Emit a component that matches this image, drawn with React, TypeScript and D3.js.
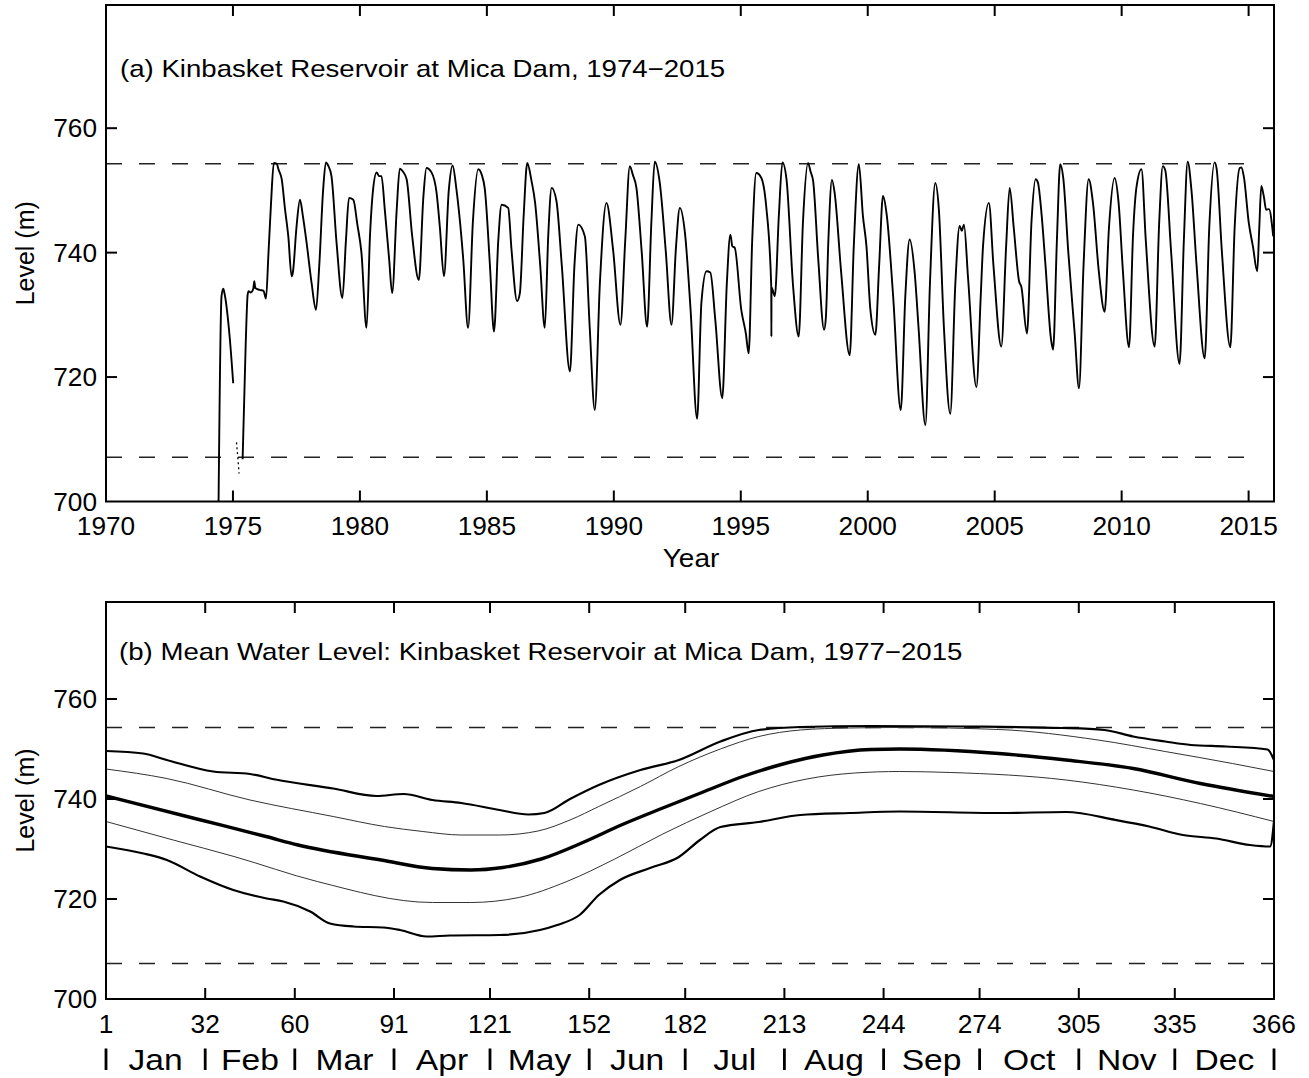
import React from 'react';
import * as d3 from 'd3';

type Pt = [number, number];

// ---------- Panel (a): daily reservoir level, 1974-2015 ----------
// initial filling of the reservoir (1974)
const fillingLevels: Pt[] = [
  [1974.41, 690], [1974.55, 733], [1974.62, 734.2], [1974.66, 733.6],
  [1974.88, 726], [1975.01, 719],
];
// sparse record early in 1975
const sparseLevels: Pt[] = [[1975.14, 709.5], [1975.2, 706.6], [1975.24, 704.5]];
// operational record
const operationLevels: Pt[] = [
  [1975.38, 706.8], [1975.5, 725], [1975.58, 733.3], [1975.62, 733.8], [1975.7, 733.6], [1975.8, 734.2],
  [1975.84, 735.4], [1975.88, 734.3], [1976.05, 734], [1976.2, 733.9], [1976.3, 732.6], [1976.4, 740],
  [1976.5, 748], [1976.61, 754.4], [1976.72, 754.3], [1976.8, 753.3], [1976.92, 751.8], [1977.05, 747],
  [1977.18, 742.6], [1977.31, 736.2], [1977.36, 736.8], [1977.5, 744], [1977.64, 748.5], [1977.75, 746],
  [1977.9, 741.6], [1978.1, 735], [1978.27, 730.8], [1978.4, 738], [1978.55, 750], [1978.66, 754.5],
  [1978.75, 754], [1978.88, 752.3], [1979.08, 741.6], [1979.31, 732.7], [1979.45, 742], [1979.57, 748.8],
  [1979.74, 748.5], [1979.9, 744.5], [1980.06, 740], [1980.26, 727.9], [1980.4, 743], [1980.52, 750.2],
  [1980.66, 752.9], [1980.75, 752.3], [1980.85, 752.3], [1980.98, 746.9], [1981.15, 739], [1981.27, 733.5],
  [1981.45, 747], [1981.57, 753.5], [1981.7, 753], [1981.84, 751.8], [1982.06, 742.6], [1982.32, 735.6],
  [1982.5, 749], [1982.62, 753.6], [1982.82, 752.9], [1983.02, 749.6], [1983.15, 744], [1983.31, 736.2],
  [1983.5, 750], [1983.65, 754.0], [1983.8, 750.2], [1984.07, 738.9], [1984.26, 727.9], [1984.45, 745],
  [1984.66, 753.4], [1984.8, 752.5], [1984.92, 750.2], [1985.12, 738], [1985.28, 727.3], [1985.45, 742],
  [1985.58, 747.7], [1985.84, 747.2], [1985.97, 740.5], [1986.19, 732.2], [1986.3, 733.5], [1986.45, 746],
  [1986.59, 754.4], [1986.76, 751.5], [1986.9, 748], [1987.1, 738], [1987.28, 727.9], [1987.42, 743],
  [1987.55, 750.4], [1987.74, 748.3], [1987.95, 738], [1988.27, 720.9], [1988.45, 738], [1988.6, 744.5],
  [1988.86, 742.6], [1989.05, 728], [1989.25, 714.7], [1989.45, 735], [1989.71, 748.0], [1989.97, 740.5],
  [1990.26, 728.4], [1990.45, 742], [1990.63, 753.9], [1990.75, 752.5], [1990.89, 750.4], [1991.1, 740],
  [1991.31, 728.1], [1991.48, 745], [1991.61, 754.6], [1991.81, 751.2], [1992.05, 740], [1992.27, 728.4],
  [1992.45, 741], [1992.6, 747.2], [1992.8, 743.2], [1993.02, 731], [1993.28, 713.3], [1993.45, 732],
  [1993.65, 737.0], [1993.8, 736.8], [1994.0, 729], [1994.27, 716.6], [1994.45, 735], [1994.59, 742.9],
  [1994.67, 741], [1994.76, 740.8], [1995.02, 730.8], [1995.2, 727], [1995.31, 723.8], [1995.45, 742],
  [1995.61, 752.8], [1995.81, 752], [1996.0, 747.5], [1996.2, 734.6], [1996.205, 726.5], [1996.21, 734.4],
  [1996.34, 733.0], [1996.5, 746], [1996.64, 754.5], [1996.8, 751.8], [1997.06, 734.6], [1997.28, 726.5],
  [1997.45, 745], [1997.65, 754.4], [1997.75, 753], [1997.85, 751.5], [1998.05, 739], [1998.28, 727.6],
  [1998.35, 729.5], [1998.45, 742], [1998.59, 751.7], [1998.7, 749.5], [1998.95, 737], [1999.29, 723.5],
  [1999.45, 741], [1999.65, 754.2], [1999.81, 745.9], [1999.95, 741], [2000.1, 731], [2000.3, 726.8],
  [2000.45, 738], [2000.6, 749.1], [2000.75, 746], [2001.0, 733], [2001.3, 714.7], [2001.48, 733],
  [2001.65, 742.1], [2001.85, 736.7], [2002.0, 728], [2002.27, 712.3], [2002.45, 735], [2002.66, 751.2],
  [2002.8, 747], [2003.0, 728], [2003.25, 714.1], [2003.45, 735], [2003.62, 744.3], [2003.7, 743.5],
  [2003.79, 744.5], [2003.95, 736], [2004.28, 718.4], [2004.45, 733], [2004.54, 741], [2004.77, 748],
  [2004.95, 738], [2005.26, 724.9], [2005.45, 741], [2005.59, 750.4], [2005.75, 744], [2005.96, 735.4],
  [2006.05, 734.5], [2006.27, 727.0], [2006.45, 745], [2006.61, 751.8], [2006.7, 751.3], [2006.85, 746],
  [2007.0, 738], [2007.22, 726], [2007.3, 724.4], [2007.45, 742], [2007.58, 754.2], [2007.7, 752],
  [2007.9, 740], [2008.15, 727], [2008.32, 718.2], [2008.5, 738], [2008.7, 751.8], [2008.87, 748],
  [2009.1, 737], [2009.33, 730.5], [2009.5, 744], [2009.72, 752], [2009.88, 748], [2010.05, 737],
  [2010.29, 724.8], [2010.45, 743], [2010.58, 750.4], [2010.78, 753.4], [2010.95, 742], [2011.3, 724.9],
  [2011.48, 745], [2011.62, 753.9], [2011.72, 753.2], [2011.95, 740], [2012.28, 722.1], [2012.45, 742],
  [2012.6, 754.6], [2012.75, 750], [2012.95, 738], [2013.27, 723.0], [2013.45, 744], [2013.66, 754.5],
  [2013.74, 753.5], [2013.95, 740], [2014.28, 724.8], [2014.45, 744], [2014.65, 753.6], [2014.72, 753.7],
  [2014.82, 752], [2015.0, 745], [2015.17, 741.0], [2015.34, 737.0], [2015.42, 744], [2015.5, 750.7],
  [2015.6, 749], [2015.69, 746.9], [2015.8, 747], [2015.97, 742.6],
];

const yearTicks = [1970, 1975, 1980, 1985, 1990, 1995, 2000, 2005, 2010, 2015];
const levelTicks = [700, 720, 740, 760];
const fullPool = 754.3;
const minPool = 707.1;

// ---------- Panel (b): day-of-year statistics, 1977-2015 ----------
const maxLevel: Pt[] = [
  [1, 749.6], [12.6, 749.1], [20, 747.8], [34.5, 745.5], [46, 745], [54, 743.9], [72, 742.1], [85.5, 740.6],
  [94, 741], [103, 739.8], [112, 739.2], [124, 737.8], [133, 736.9], [138, 737.2], [146, 740], [155, 742.8],
  [168, 745.8], [180, 747.8], [193, 751.5], [205, 753.8], [218, 754.4], [240, 754.6], [270, 754.5],
  [300, 754.2], [313, 753.8], [322, 752.5], [332, 751.5], [340, 750.8], [351, 750.5], [364, 749.9],
  [365.5, 748.5], [366, 747.8],
];
const upperSd: Pt[] = [
  [1, 746], [20, 744.1], [46, 739.8], [72, 736.5], [88, 734.5], [100, 733.5], [112, 732.8], [124, 732.8],
  [136, 733.6], [146, 735.8], [155, 738.5], [168, 742.5], [180, 746.5], [193, 750], [205, 752.5],
  [218, 753.8], [233, 754.2], [249, 754.3], [280, 753.9], [311, 751.8], [332, 749.5], [353, 747.1], [366, 745.5],
];
const meanLevel: Pt[] = [
  [1, 740.6], [30, 735.9], [51, 732.5], [61, 730.8], [87, 727.8], [103, 726.1], [115, 725.8], [125, 726.3],
  [137, 728], [150, 731.3], [162, 734.8], [175, 738.2], [188, 741.5], [200, 744.5], [212, 746.9],
  [225, 748.8], [240, 749.9], [249, 750], [280, 749.1], [301, 747.8], [322, 746.1], [343, 743.1], [366, 740.5],
];
const lowerSd: Pt[] = [
  [1, 735.5], [22, 731.8], [41, 728.5], [67, 723.5], [103, 719.3], [115, 719.3], [130, 720.3], [145, 723.5],
  [160, 728], [175, 733], [190, 737.5], [205, 741.5], [220, 744], [235, 745.2], [249, 745.5], [265, 745.3],
  [301, 743.8], [322, 741.8], [343, 739.1], [366, 735.5],
];
const minLevel: Pt[] = [
  [1, 730.5], [12.7, 729.1], [20, 727.8], [30.4, 724.5], [40.8, 721.8], [51.2, 720.1], [56.4, 719.5],
  [64.8, 717.5], [71, 715.1], [78.3, 714.5], [87.6, 714.3], [92.9, 713.8], [101.2, 712.5], [108.5, 712.7],
  [124, 712.8], [136.6, 713.8], [142, 714.8], [149, 716.8], [155, 720.8], [161.6, 723.8], [171, 726.2],
  [180, 728.4], [186.6, 731.8], [193, 734.4], [205, 735.4], [218, 736.8], [233.5, 737.2], [249, 737.5],
  [280, 737.2], [301, 737.4], [316.6, 735.8], [327, 734.5], [337.5, 732.8], [348, 732.1], [358.5, 730.8],
  [364.8, 730.5], [366, 735.5],
];

const dayTicks = [1, 32, 60, 91, 121, 152, 182, 213, 244, 274, 305, 335, 366];
const monthNames = ['Jan', 'Feb', 'Mar', 'Apr', 'May', 'Jun', 'Jul', 'Aug', 'Sep', 'Oct', 'Nov', 'Dec'];

const FONT = '"Liberation Sans", Arial, Helvetica, sans-serif';
const LEFT = 106;
const RIGHT = 1274;
const TICK = 11;

// text drawn with a slight horizontal widening of the glyphs
function WideText({ x, y, sx, size, anchor = 'start', children }: {
  x: number; y: number; sx: number; size: number; anchor?: 'start' | 'middle' | 'end'; children: React.ReactNode;
}) {
  return (
    <text transform={`translate(${x},${y}) scale(${sx},1)`} fontSize={size} textAnchor={anchor} fill="#000">
      {children}
    </text>
  );
}

function Axes({ x, y, xTicks, yTicks }: {
  x: d3.ScaleLinear<number, number>;
  y: d3.ScaleLinear<number, number>;
  xTicks: number[];
  yTicks: number[];
}) {
  const [x0, x1] = x.range();
  const [y1, y0] = y.range();
  return (
    <g stroke="#000" strokeWidth={2} fill="none">
      {xTicks.map((t) => (
        <g key={'x' + t}>
          <line x1={x(t)} x2={x(t)} y1={y1} y2={y1 - TICK} />
          <line x1={x(t)} x2={x(t)} y1={y0} y2={y0 + TICK} />
        </g>
      ))}
      {yTicks.map((t) => (
        <g key={'y' + t}>
          <line x1={x0} x2={x0 + TICK} y1={y(t)} y2={y(t)} />
          <line x1={x1} x2={x1 - TICK} y1={y(t)} y2={y(t)} />
        </g>
      ))}
      <rect x={x0} y={y0} width={x1 - x0} height={y1 - y0} />
    </g>
  );
}

export default function App() {
  // panel (a)
  const xa = d3.scaleLinear().domain([1970, 2016]).range([LEFT, RIGHT]);
  const ya = d3.scaleLinear().domain([700, 779.8]).range([501.5, 5]);
  const lineA = d3.line<Pt>().x((d) => xa(d[0])).y((d) => ya(d[1])).curve(d3.curveMonotoneX);

  // panel (b)
  const xb = d3.scaleLinear().domain([1, 366]).range([LEFT, RIGHT]);
  const yb = d3.scaleLinear().domain([700, 779.4]).range([999, 602]);
  const lineB = d3.line<Pt>().x((d) => xb(d[0])).y((d) => yb(d[1])).curve(d3.curveMonotoneX);

  const dash = '16,17';
  const tickSx = 1.05;

  return (
    <svg
      width={1309}
      height={1078}
      viewBox="0 0 1309 1078"
      style={{ position: 'absolute', left: 0, top: 0, display: 'block', background: '#fff' }}
      fontFamily={FONT}
    >
      <rect x={0} y={0} width={1309} height={1078} fill="#fff" />
      <defs>
        <clipPath id="clipA">
          <rect x={LEFT} y={5} width={RIGHT - LEFT} height={496.5} />
        </clipPath>
        <clipPath id="clipB">
          <rect x={LEFT} y={602} width={RIGHT - LEFT} height={397} />
        </clipPath>
      </defs>

      {/* ----- panel (a) ----- */}
      <g>
        <g stroke="#222" strokeWidth={1.5} strokeDasharray={dash}>
          <line x1={xa(1970)} x2={xa(2015)} y1={ya(fullPool)} y2={ya(fullPool)} />
          <line x1={xa(1970)} x2={xa(2015)} y1={ya(minPool)} y2={ya(minPool)} />
        </g>
        <g clipPath="url(#clipA)" fill="none" stroke="#000" strokeLinejoin="round">
          <path d={lineA(fillingLevels) ?? ''} strokeWidth={1.9} />
          <path d={lineA(sparseLevels) ?? ''} strokeWidth={1.3} strokeDasharray="2,3" />
          <path d={lineA(operationLevels) ?? ''} strokeWidth={1.9} />
        </g>
        <Axes x={xa} y={ya} xTicks={yearTicks.slice(1)} yTicks={levelTicks.slice(1)} />
        {yearTicks.map((t) => (
          <WideText key={t} x={xa(t)} y={535} sx={tickSx} size={25} anchor="middle">{t}</WideText>
        ))}
        {levelTicks.map((t) => (
          <WideText key={t} x={97} y={ya(t) + 9} sx={tickSx} size={25} anchor="end">{t}</WideText>
        ))}
        <WideText x={691} y={567} sx={1.12} size={25} anchor="middle">Year</WideText>
        <text transform={`translate(34,${(5 + 501.5) / 2}) rotate(-90)`} fontSize={25} textAnchor="middle" fill="#000">Level (m)</text>
        <WideText x={120} y={77} sx={1.15} size={24}>(a) Kinbasket Reservoir at Mica Dam, 1974−2015</WideText>
      </g>

      {/* ----- panel (b) ----- */}
      <g>
        <g stroke="#222" strokeWidth={1.5} strokeDasharray={dash}>
          <line x1={xb(1)} x2={xb(366)} y1={yb(fullPool)} y2={yb(fullPool)} />
          <line x1={xb(1)} x2={xb(366)} y1={yb(minPool)} y2={yb(minPool)} />
        </g>
        <g clipPath="url(#clipB)" fill="none" stroke="#000" strokeLinejoin="round">
          <path d={lineB(maxLevel) ?? ''} strokeWidth={2.2} />
          <path d={lineB(minLevel) ?? ''} strokeWidth={2.2} />
          <path d={lineB(upperSd) ?? ''} strokeWidth={1} stroke="#333" />
          <path d={lineB(lowerSd) ?? ''} strokeWidth={1} stroke="#333" />
          <path d={lineB(meanLevel) ?? ''} strokeWidth={3.4} />
        </g>
        <Axes x={xb} y={yb} xTicks={dayTicks.slice(1, -1)} yTicks={levelTicks.slice(1)} />
        {dayTicks.map((t) => (
          <WideText key={t} x={xb(t)} y={1033} sx={tickSx} size={25} anchor="middle">{t}</WideText>
        ))}
        {levelTicks.map((t) => (
          <WideText key={t} x={97} y={yb(t) + 9} sx={tickSx} size={25} anchor="end">{t}</WideText>
        ))}
        <text transform={`translate(34,${(602 + 999) / 2}) rotate(-90)`} fontSize={25} textAnchor="middle" fill="#000">Level (m)</text>
        <WideText x={119} y={660} sx={1.15} size={24}>(b) Mean Water Level: Kinbasket Reservoir at Mica Dam, 1977−2015</WideText>
        {/* month band: separators on month boundaries, names centred between */}
        <g stroke="#000" strokeWidth={2.8}>
          {dayTicks.map((t) => (
            <line key={t} x1={xb(t)} x2={xb(t)} y1={1048.5} y2={1070} />
          ))}
        </g>
        {monthNames.map((m, i) => (
          <WideText key={m} x={xb((dayTicks[i] + dayTicks[i + 1]) / 2)} y={1070} sx={1.12} size={30} anchor="middle">{m}</WideText>
        ))}
      </g>
    </svg>
  );
}
